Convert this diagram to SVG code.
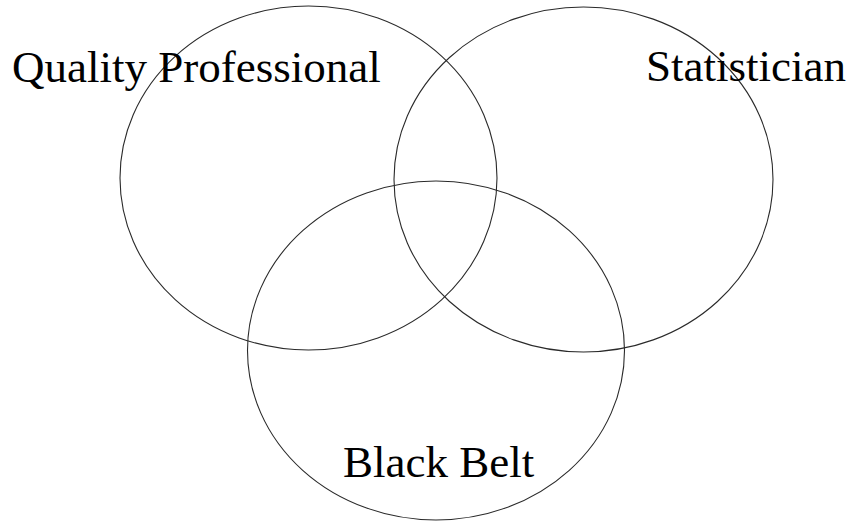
<svg xmlns="http://www.w3.org/2000/svg" width="849" height="521" viewBox="0 0 849 521">
<style>
.c{fill:none;stroke:#2a2a2a;stroke-width:1.1}
.t{font-family:"Liberation Serif","Times New Roman",serif;font-size:45px;fill:#000}
</style>
<rect width="849" height="521" fill="#fff"/>
<g id="quality">
<ellipse class="c" cx="308.5" cy="178" rx="188.5" ry="172"/>
<text class="t" x="12" y="82">Quality Professional</text>
</g>
<g id="statistician">
<ellipse class="c" cx="583.5" cy="179.5" rx="189.5" ry="172.5"/>
<text class="t" x="646" y="81">Statistician</text>
</g>
<g id="blackbelt">
<ellipse class="c" cx="436" cy="350.5" rx="188.5" ry="169.5"/>
<text class="t" x="343" y="477">Black Belt</text>
</g>
<g id="connectors"/>
</svg>
